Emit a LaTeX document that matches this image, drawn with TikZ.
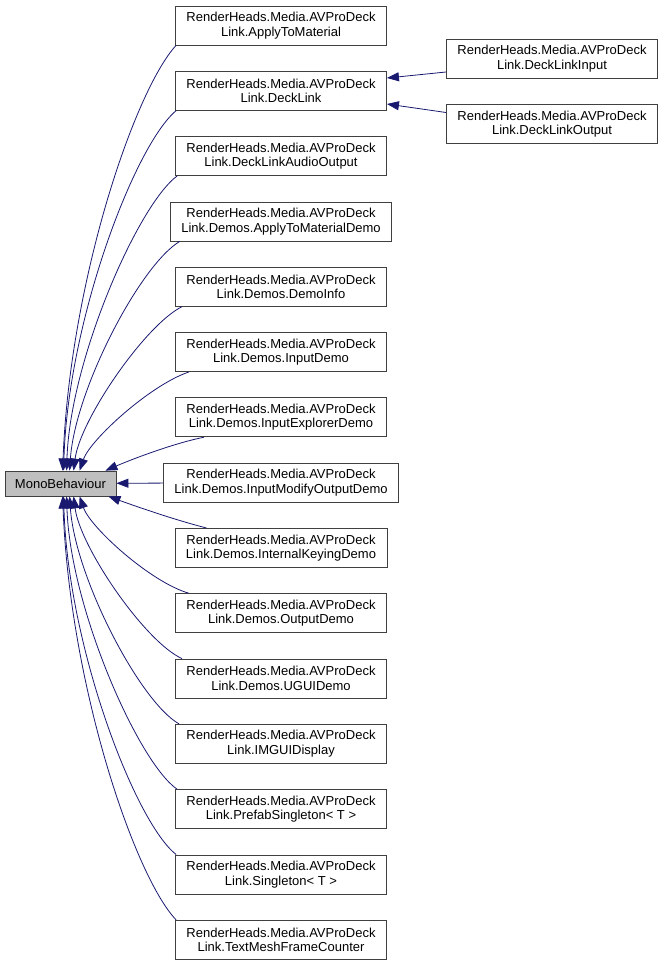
\documentclass[tikz,border=0pt]{standalone}
\usepackage{fontspec}
\setmainfont{Liberation Sans}
\usetikzlibrary{arrows.meta}
\definecolor{edgeblue}{HTML}{191970}
\definecolor{boxgray}{HTML}{BFBFBF}
\definecolor{linegray}{HTML}{404040}
\begin{document}
\begin{tikzpicture}[x=1pt,y=-1pt,
  cls/.style={draw=linegray,line width=0.8pt,fill=white,minimum width=210pt,minimum height=39pt,inner xsep=11pt,inner ysep=2pt,align=center,font=\fontsize{13}{14.5}\selectfont},
  base/.style={cls,fill=boxgray,minimum width=111pt,minimum height=25pt,inner sep=0pt},
  edge/.style={edgeblue,line width=0.8pt,-{Triangle[length=12pt,width=9pt]}}]
\useasboundingbox (0,0) rectangle (663,967);
% base class
\node[base] (mono) at (60.5,483.5) {MonoBehaviour};
% derived classes
\node[cls] (atm) at (281,25.5) {RenderHeads.Media.AVProDeck\\Link.ApplyToMaterial};
\node[cls] (dl) at (281,90.8) {RenderHeads.Media.AVProDeck\\Link.DeckLink};
\node[cls] (dlao) at (281,156.1) {RenderHeads.Media.AVProDeck\\Link.DeckLinkAudioOutput};
\node[cls] (atmd) at (281,221.4) {RenderHeads.Media.AVProDeck\\Link.Demos.ApplyToMaterialDemo};
\node[cls] (dinfo) at (281,286.7) {RenderHeads.Media.AVProDeck\\Link.Demos.DemoInfo};
\node[cls] (idemo) at (281,352) {RenderHeads.Media.AVProDeck\\Link.Demos.InputDemo};
\node[cls] (iexp) at (281,417.3) {RenderHeads.Media.AVProDeck\\Link.Demos.InputExplorerDemo};
\node[cls] (imod) at (281,482.6) {RenderHeads.Media.AVProDeck\\Link.Demos.InputModifyOutputDemo};
\node[cls] (ikey) at (281,547.9) {RenderHeads.Media.AVProDeck\\Link.Demos.InternalKeyingDemo};
\node[cls] (odemo) at (281,613.2) {RenderHeads.Media.AVProDeck\\Link.Demos.OutputDemo};
\node[cls] (ugui) at (281,678.5) {RenderHeads.Media.AVProDeck\\Link.Demos.UGUIDemo};
\node[cls] (imgui) at (281,743.8) {RenderHeads.Media.AVProDeck\\Link.IMGUIDisplay};
\node[cls] (pref) at (281,809.1) {RenderHeads.Media.AVProDeck\\Link.PrefabSingleton< T >};
\node[cls] (single) at (281,874.4) {RenderHeads.Media.AVProDeck\\Link.Singleton< T >};
\node[cls] (tmfc) at (281,939.7) {RenderHeads.Media.AVProDeck\\Link.TextMeshFrameCounter};
% DeckLink subclasses
\node[cls] (dlin) at (552,58.5) {RenderHeads.Media.AVProDeck\\Link.DeckLinkInput};
\node[cls] (dlout) at (552,124) {RenderHeads.Media.AVProDeck\\Link.DeckLinkOutput};
\draw[edge] ([yshift=-13.5pt]dlin.west) -- ([yshift=12.8pt]dl.east);
\draw[edge] ([yshift=11.5pt]dlout.west) -- ([yshift=-13.2pt]dl.east);
% upper edges
\draw[edge] ([xshift=1pt]atm.south west) .. controls (135,90) and (70,280) .. ([xshift=58pt]mono.north west);
\draw[edge] ([xshift=1pt]dl.south west) .. controls (135,145) and (68,320) .. ([xshift=59pt]mono.north west);
\draw[edge] ([xshift=2pt]dlao.south west) .. controls (138,205) and (70,360) .. ([xshift=62pt]mono.north west);
\draw[edge] ([xshift=10pt]atmd.south west) .. controls (140,265) and (75,390) .. ([xshift=65pt]mono.north west);
\draw[edge] ([xshift=7pt]dinfo.south west) .. controls (145,325) and (80,420) .. ([xshift=69pt]mono.north west);
\draw[edge] ([xshift=14pt]idemo.south west) .. controls (150,385) and (90,440) .. ([xshift=75pt]mono.north west);
\draw[edge] ([xshift=29pt]iexp.south west) .. controls (175,443) and (135,458) .. ([xshift=-11pt]mono.north east);
\draw[edge] (imod) -- (mono);
% lower edges
\draw[edge] ([xshift=32pt]ikey.north west) .. controls (175,520) and (135,506) .. ([xshift=-8pt]mono.south east);
\draw[edge] ([xshift=14pt]odemo.north west) .. controls (150,582) and (90,527) .. ([xshift=75pt]mono.south west);
\draw[edge] ([xshift=7pt]ugui.north west) .. controls (145,642) and (80,547) .. ([xshift=69pt]mono.south west);
\draw[edge] ([xshift=4pt]imgui.north west) .. controls (140,702) and (75,577) .. ([xshift=65pt]mono.south west);
\draw[edge] ([xshift=2pt]pref.north west) .. controls (138,762) and (70,607) .. ([xshift=62pt]mono.south west);
\draw[edge] ([xshift=1pt]single.north west) .. controls (135,822) and (68,647) .. ([xshift=59pt]mono.south west);
\draw[edge] ([xshift=1pt]tmfc.north west) .. controls (135,877) and (70,687) .. ([xshift=58pt]mono.south west);
\end{tikzpicture}
\end{document}
